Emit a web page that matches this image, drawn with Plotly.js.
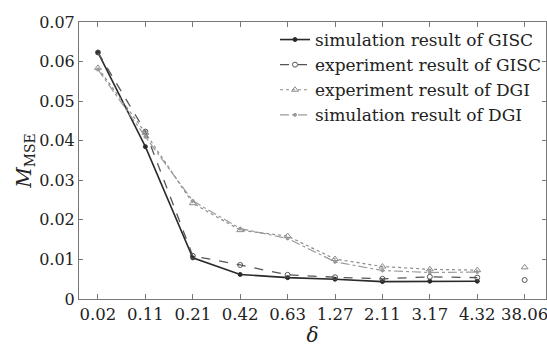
<!DOCTYPE html>
<html>
<head>
<meta charset="utf-8">
<script src="https://cdn.plot.ly/plotly-3.0.1.min.js"></script>
<style>html,body{margin:0;padding:0;background:#fff;}#chart{width:547px;height:347px;}</style>
</head>
<body>
<div id="chart"></div>
<script>
// Data
const deltaLabels = ['0.02','0.11','0.21','0.42','0.63','1.27','2.11','3.17','4.32','38.06'];
const simGISC = [0.0623, 0.0385, 0.0104, 0.0062, 0.0054, 0.0050, 0.0044, 0.0045, 0.0045, null];
const expGISC = [0.0623, 0.0423, 0.0109, 0.0086, 0.0061, 0.0055, 0.0051, 0.0056, 0.0054, 0.0048];
const expDGI  = [0.0584, 0.0420, 0.0242, 0.0174, 0.0159, 0.0101, 0.0082, 0.0075, 0.0073, 0.0080];
const simDGI  = [0.0580, 0.0410, 0.0248, 0.0178, 0.0153, 0.0094, 0.0072, 0.0067, 0.0068, null];
const seriesNames = ['simulation result of GISC','experiment result of GISC','experiment result of DGI','simulation result of DGI'];

const styles = [
  {color:'#2a2a2a', dash:'solid',   width:1.6, symbol:'circle',           size:4},
  {color:'#555555', dash:'dash',    width:1.3, symbol:'circle-open',      size:5},
  {color:'#8a8a8a', dash:'dot',     width:1.2, symbol:'triangle-up-open', size:6},
  {color:'#9a9a9a', dash:'dashdot', width:1.2, symbol:'circle',           size:3}
];
const allSeries = [simGISC, expGISC, expDGI, simDGI];

const traces = [];
allSeries.forEach((vals, i) => {
  const st = styles[i];
  const n = deltaLabels.length - 1;
  traces.push({
    x: deltaLabels.slice(0, n), y: vals.slice(0, n),
    name: seriesNames[i], type: 'scatter', mode: 'lines+markers',
    line: {color: st.color, dash: st.dash, width: st.width},
    marker: {color: st.color, symbol: st.symbol, size: st.size, line:{color: st.color, width:1}}
  });
  if (vals[n] !== null) {
    traces.push({
      x: [deltaLabels[n]], y: [vals[n]], showlegend: false,
      type: 'scatter', mode: 'markers',
      marker: {color: st.color, symbol: st.symbol, size: st.size, line:{color: st.color, width:1}}
    });
  }
});

const fam = '"DejaVu Serif", "Liberation Serif", serif';
const layout = {
  width: 547, height: 347,
  margin: {l: 79, r: 1, t: 22, b: 48},
  paper_bgcolor: '#fff', plot_bgcolor: '#fff',
  font: {family: fam, color: '#222', size: 16},
  showlegend: true,
  legend: {x: 1, xanchor: 'right', y: 1.0, yanchor: 'top', bgcolor: 'rgba(0,0,0,0)',
           font: {family: fam, size: 17, color: '#222'}, tracegroupgap: 0, itemwidth: 30},
  xaxis: {
    type: 'category', categoryorder: 'array', categoryarray: deltaLabels,
    range: [-0.4, 9.45], showgrid: false, zeroline: false,
    showline: true, linecolor: '#777', linewidth: 1, mirror: 'ticks',
    ticks: 'inside', ticklen: 5, tickcolor: '#777', tickangle: 0,
    tickfont: {family: fam, size: 16.5, color: '#222'},
    title: {text: '<i>δ</i>', font: {family: fam, size: 20, color: '#222'}, standoff: 0}
  },
  yaxis: {
    range: [0, 0.07], dtick: 0.01, showgrid: false, zeroline: false,
    showline: true, linecolor: '#777', linewidth: 1, mirror: 'ticks',
    ticks: 'inside', ticklen: 4, tickcolor: '#777',
    tickfont: {family: fam, size: 16, color: '#222'},
    title: {text: '<i>M</i><sub>MSE</sub>', font: {family: fam, size: 20, color: '#222'}, standoff: 2}
  }
};

Plotly.newPlot('chart', traces, layout, {displayModeBar: false, staticPlot: true});
</script>
</body>
</html>
